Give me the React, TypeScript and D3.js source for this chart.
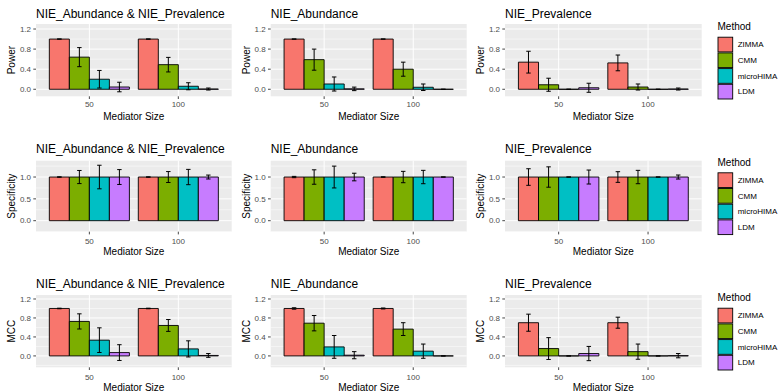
import React, { useEffect, useRef } from "react";
import * as d3 from "d3";

const sizes = ["50", "100"];
const methods = ["ZIMMA", "CMM", "microHIMA", "LDM"];
const methodColors = ["#F8766D", "#7CAE00", "#00BFC4", "#C77CFF"];
const panelTitles = ["NIE_Abundance & NIE_Prevalence", "NIE_Abundance", "NIE_Prevalence"];
const metrics = ["Power", "Specificity", "MCC"];

// each array: size 50 (ZIMMA, CMM, microHIMA, LDM) then size 100 (same order)
const powerBothMean = [1.0, 0.64, 0.2, 0.045, 1.0, 0.49, 0.06, 0.005];
const powerBothSd = [0, 0.19, 0.175, 0.095, 0, 0.145, 0.07, 0.02];
const powerAbunMean = [1.0, 0.59, 0.105, 0.008, 1.0, 0.4, 0.04, 0];
const powerAbunSd = [0, 0.21, 0.14, 0.035, 0, 0.14, 0.065, 0];
const powerPrevMean = [0.54, 0.09, 0, 0.03, 0.525, 0.045, 0, 0.005];
const powerPrevSd = [0.217, 0.13, 0, 0.09, 0.157, 0.06, 0, 0.02];

const specBothMean = [1, 1, 1, 1, 1, 1, 1, 1];
const specBothSd = [0.005, 0.15, 0.27, 0.17, 0.004, 0.125, 0.175, 0.045];
const specAbunMean = [1, 1, 1, 1, 1, 1, 1, 1];
const specAbunSd = [0.015, 0.165, 0.25, 0.087, 0.006, 0.13, 0.153, 0];
const specPrevMean = [1, 1, 1, 1, 1, 1, 1, 1];
const specPrevSd = [0.19, 0.233, 0, 0.16, 0.122, 0.153, 0, 0.046];

const mccBothMean = [1.0, 0.727, 0.332, 0.07, 1.0, 0.642, 0.148, 0.01];
const mccBothSd = [0.006, 0.16, 0.26, 0.166, 0.006, 0.125, 0.17, 0.04];
const mccAbunMean = [1.0, 0.69, 0.19, 0.015, 1.0, 0.565, 0.1, 0];
const mccAbunSd = [0.015, 0.162, 0.24, 0.075, 0.01, 0.135, 0.15, 0];
const mccPrevMean = [0.7, 0.155, 0, 0.05, 0.7, 0.09, 0, 0.005];
const mccPrevSd = [0.18, 0.23, 0, 0.15, 0.116, 0.16, 0, 0.045];

const powerTicks = [0, 0.4, 0.8, 1.2];
const specTicks = [0, 0.5, 1.0];
const mccTicks = [0, 0.4, 0.8, 1.2];

const panelMeans = [
  [powerBothMean, powerAbunMean, powerPrevMean],
  [specBothMean, specAbunMean, specPrevMean],
  [mccBothMean, mccAbunMean, mccPrevMean],
];
const panelSds = [
  [powerBothSd, powerAbunSd, powerPrevSd],
  [specBothSd, specAbunSd, specPrevSd],
  [mccBothSd, mccAbunSd, mccPrevSd],
];
const rowTicks = [powerTicks, specTicks, mccTicks];

// layout
const cols = [
  { x0: 36, x1: 231.7 },
  { x0: 270.7, x1: 466.7 },
  { x0: 505, x1: 701.7 },
];
const rows = [
  { domain: [-0.14, 1.3], titleY: 18.3, top: 24, bottom: 96.3, tickY: 107, axisY: 119.6, legendTop: 36.7, legendTitleY: 29.5 },
  { domain: [-0.252, 1.374], titleY: 153.3, top: 160.7, bottom: 231.7, tickY: 244, axisY: 255.3, legendTop: 172.3, legendTitleY: 165.8 },
  { domain: [-0.24, 1.284], titleY: 288.3, top: 295, bottom: 367.3, tickY: 379.6, axisY: 391, legendTop: 307.7, legendTitleY: 300.8 },
];

const font = "'Liberation Sans', Arial, Helvetica, sans-serif";

export default function App() {
  const ref = useRef<HTMLDivElement>(null);

  useEffect(() => {
    document.body.style.margin = "0";
    const root = d3.select(ref.current);
    root.selectAll("*").remove();

    const svg = root.append("svg")
      .attr("width", 779)
      .attr("height", 392)
      .style("display", "block")
      .style("background", "white")
      .style("font-family", font);

    rows.forEach((row, r) => {
      const ticks = rowTicks[r];
      const step = ticks[1] - ticks[0];
      const minor = d3.range(ticks[0] - step / 2, ticks[ticks.length - 1] + step, step)
        .filter(v => v > row.domain[0] && v < row.domain[1]);

      cols.forEach((col, c) => {
        const means = panelMeans[r][c];
        const sds = panelSds[r][c];

        const y = d3.scaleLinear().domain(row.domain).range([row.bottom, row.top]);
        const x = d3.scalePoint().domain(sizes).range([col.x0, col.x1]).padding(0.6);
        const unit = x.step();
        const barW = unit * 0.9 / methods.length;

        const g = svg.append("g");

        // panel background + grid
        g.append("rect")
          .attr("x", col.x0).attr("y", row.top)
          .attr("width", col.x1 - col.x0).attr("height", row.bottom - row.top)
          .attr("fill", "#EBEBEB");

        g.selectAll(".minor").data(minor).enter().append("line")
          .attr("x1", col.x0).attr("x2", col.x1)
          .attr("y1", d => y(d)).attr("y2", d => y(d))
          .attr("stroke", "white").attr("stroke-width", 0.5);

        g.selectAll(".major").data(ticks).enter().append("line")
          .attr("x1", col.x0).attr("x2", col.x1)
          .attr("y1", d => y(d)).attr("y2", d => y(d))
          .attr("stroke", "white").attr("stroke-width", 1);

        g.selectAll(".vmajor").data(sizes).enter().append("line")
          .attr("x1", d => x(d)!).attr("x2", d => x(d)!)
          .attr("y1", row.top).attr("y2", row.bottom)
          .attr("stroke", "white").attr("stroke-width", 1);

        const items = means.map((m, i) => {
          const si = Math.floor(i / methods.length);
          const mi = i % methods.length;
          const cx = x(sizes[si])! - unit * 0.45 + barW * (mi + 0.5);
          return { m, sd: sds[i], mi, cx };
        });

        // bars (paths so zero-height bars still show their outline)
        g.selectAll(".bar").data(items).enter().append("path")
          .attr("d", d => {
            const x0 = d.cx - barW / 2, x1 = d.cx + barW / 2;
            return `M${x0},${y(0)}H${x1}V${y(d.m)}H${x0}Z`;
          })
          .attr("fill", d => methodColors[d.mi])
          .attr("stroke", "black")
          .attr("stroke-width", 0.9);

        // error bars
        const capW = unit * 0.2 / methods.length;
        const eb = g.selectAll(".eb").data(items).enter().append("g")
          .attr("stroke", "black").attr("stroke-width", 1);
        eb.append("line")
          .attr("x1", d => d.cx).attr("x2", d => d.cx)
          .attr("y1", d => y(d.m - d.sd)).attr("y2", d => y(d.m + d.sd));
        eb.append("line")
          .attr("x1", d => d.cx - capW / 2).attr("x2", d => d.cx + capW / 2)
          .attr("y1", d => y(d.m - d.sd)).attr("y2", d => y(d.m - d.sd));
        eb.append("line")
          .attr("x1", d => d.cx - capW / 2).attr("x2", d => d.cx + capW / 2)
          .attr("y1", d => y(d.m + d.sd)).attr("y2", d => y(d.m + d.sd));

        // y axis
        const yAxis = g.append("g");
        yAxis.selectAll("line").data(ticks).enter().append("line")
          .attr("x1", col.x0 - 2.7).attr("x2", col.x0)
          .attr("y1", d => y(d)).attr("y2", d => y(d))
          .attr("stroke", "#333333").attr("stroke-width", 0.9);
        yAxis.selectAll("text").data(ticks).enter().append("text")
          .attr("x", col.x0 - 5)
          .attr("y", d => y(d))
          .attr("dy", "0.35em")
          .attr("text-anchor", "end")
          .attr("font-size", 8)
          .attr("fill", "#4D4D4D")
          .text(d => d3.format(".1f")(d));

        // x axis
        const xAxis = g.append("g");
        xAxis.selectAll("line").data(sizes).enter().append("line")
          .attr("x1", d => x(d)!).attr("x2", d => x(d)!)
          .attr("y1", row.bottom).attr("y2", row.bottom + 2.7)
          .attr("stroke", "#333333").attr("stroke-width", 0.9);
        xAxis.selectAll("text").data(sizes).enter().append("text")
          .attr("x", d => x(d)!)
          .attr("y", row.tickY)
          .attr("text-anchor", "middle")
          .attr("font-size", 8)
          .attr("fill", "#4D4D4D")
          .text(d => d);

        g.append("text")
          .attr("x", (col.x0 + col.x1) / 2)
          .attr("y", row.axisY)
          .attr("text-anchor", "middle")
          .attr("font-size", 10)
          .text("Mediator Size");

        g.append("text")
          .attr("transform", `translate(${col.x0 - 21},${(row.top + row.bottom) / 2}) rotate(-90)`)
          .attr("text-anchor", "middle")
          .attr("font-size", 10)
          .text(metrics[r]);

        g.append("text")
          .attr("x", col.x0)
          .attr("y", row.titleY)
          .attr("font-size", 12)
          .text(panelTitles[c]);
      });

      // legend
      const keySize = 15.7;
      const legend = svg.append("g").attr("transform", `translate(717.5,0)`);
      legend.append("text")
        .attr("x", 0).attr("y", row.legendTitleY)
        .attr("font-size", 10)
        .text("Method");
      const keys = legend.selectAll(".key").data(methods).enter().append("g")
        .attr("transform", (d, i) => `translate(0,${row.legendTop + i * keySize})`);
      keys.append("rect")
        .attr("x", 0.5).attr("y", 0.5)
        .attr("width", keySize - 1).attr("height", keySize - 1)
        .attr("fill", (d, i) => methodColors[i])
        .attr("stroke", "black").attr("stroke-width", 0.9);
      keys.append("text")
        .attr("x", keySize + 4.5)
        .attr("y", keySize / 2)
        .attr("dy", "0.35em")
        .attr("font-size", 8)
        .text(d => d);
    });
  }, []);

  return <div ref={ref}></div>;
}
